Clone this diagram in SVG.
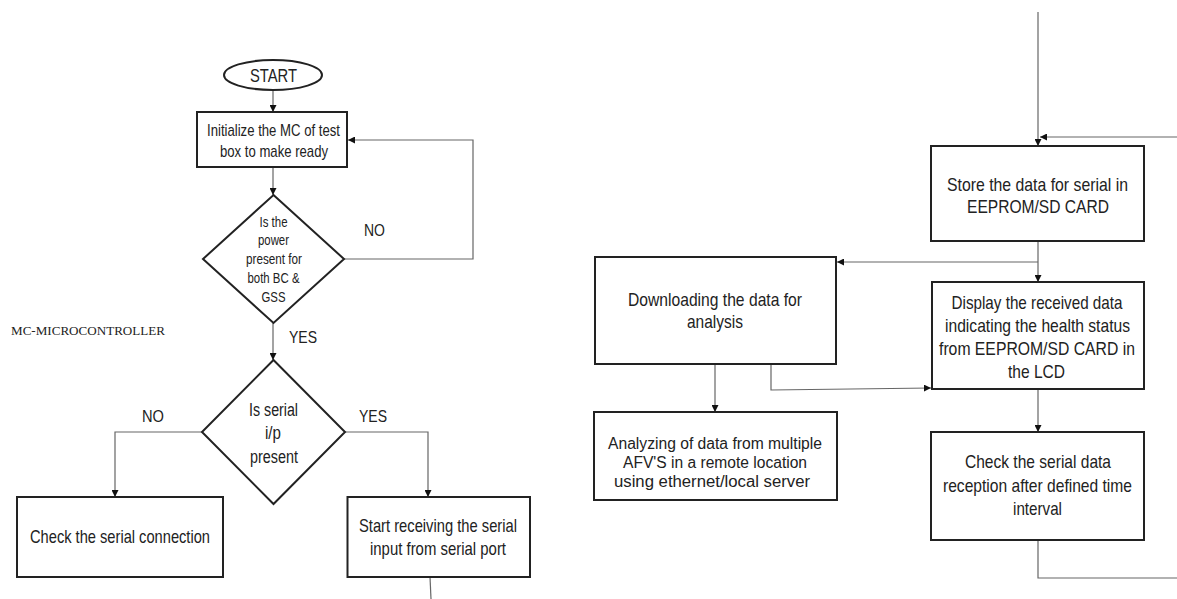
<svg xmlns="http://www.w3.org/2000/svg" width="1177" height="599" viewBox="0 0 1177 599">
<defs>
<style>
.bx{fill:#fff;stroke:#222;stroke-width:2}
.ln{fill:none;stroke:#666;stroke-width:1.2}
.t{font-family:"Liberation Sans",Arial,sans-serif;fill:#222}
.c{text-anchor:middle}
.f14{font-size:14px}
.f16{font-size:16px}
.f17{font-size:17px}
.f18{font-size:18px}
.f19{font-size:19px}
.lab{font-family:"Liberation Serif","Times New Roman",serif;font-size:13px;fill:#222}
</style>
<marker id="ah" viewBox="0 0 8 8" refX="8" refY="4" markerWidth="7" markerHeight="7" markerUnits="userSpaceOnUse" orient="auto">
<path d="M0,0 L8,4 L0,8 Z" fill="#111"/>
</marker>
</defs>
<rect width="1177" height="599" fill="#fff"/>

<g id="connectors">
<line class="ln" x1="273" y1="90" x2="273" y2="112" marker-end="url(#ah)"/>
<line class="ln" x1="273" y1="167" x2="273" y2="195" marker-end="url(#ah)"/>
<polyline class="ln" points="344,259 473,259 473,140 348,140" marker-end="url(#ah)"/>
<line class="ln" x1="273" y1="323" x2="273" y2="360" marker-end="url(#ah)"/>
<polyline class="ln" points="202,432 115,432 115,497" marker-end="url(#ah)"/>
<polyline class="ln" points="345,432 428,432 428,497" marker-end="url(#ah)"/>
<line class="ln" x1="430" y1="577" x2="431" y2="599"/>
<line class="ln" x1="1038" y1="12" x2="1038" y2="146" marker-end="url(#ah)"/>
<line class="ln" x1="1177" y1="137" x2="1040" y2="137" marker-end="url(#ah)"/>
<line class="ln" x1="1038" y1="241" x2="1038" y2="282" marker-end="url(#ah)"/>
<line class="ln" x1="1038" y1="262" x2="837" y2="262" marker-end="url(#ah)"/>
<line class="ln" x1="1038" y1="389" x2="1038" y2="432" marker-end="url(#ah)"/>
<line class="ln" x1="715" y1="364" x2="715" y2="412" marker-end="url(#ah)"/>
<polyline class="ln" points="771,364 771,390 931,388" marker-end="url(#ah)"/>
<polyline class="ln" points="1038,540 1038,578 1177,578"/>
</g>

<g id="start">
<ellipse cx="273" cy="75" rx="49" ry="15" class="bx"/>
<text class="t c f19" x="273.5" y="82" textLength="47" lengthAdjust="spacingAndGlyphs">START</text>
</g>

<g id="init">
<rect x="197" y="112" width="150" height="55" class="bx" stroke-width="2.5"/>
<text class="t c f17" x="273.5" y="136" textLength="133" lengthAdjust="spacingAndGlyphs">Initialize the MC of test</text>
<text class="t c f17" x="274" y="157" textLength="108" lengthAdjust="spacingAndGlyphs">box to make ready</text>
</g>

<g id="power-decision">
<polygon points="273.5,195 344,259 273.5,323 203,259" class="bx"/>
<text class="t c f14" x="273.5" y="227" textLength="28" lengthAdjust="spacingAndGlyphs">Is the</text>
<text class="t c f14" x="273.5" y="245" textLength="31" lengthAdjust="spacingAndGlyphs">power</text>
<text class="t c f14" x="274" y="264" textLength="56" lengthAdjust="spacingAndGlyphs">present for</text>
<text class="t c f14" x="273.5" y="283" textLength="52" lengthAdjust="spacingAndGlyphs">both BC &amp;</text>
<text class="t c f14" x="273.5" y="302" textLength="24" lengthAdjust="spacingAndGlyphs">GSS</text>
</g>

<g id="labels">
<text class="t f17" x="364" y="236" textLength="21" lengthAdjust="spacingAndGlyphs">NO</text>
<text class="t f17" x="289" y="343" textLength="28" lengthAdjust="spacingAndGlyphs">YES</text>
<text class="t f17" x="142" y="422" textLength="22" lengthAdjust="spacingAndGlyphs">NO</text>
<text class="t f17" x="359" y="422" textLength="28" lengthAdjust="spacingAndGlyphs">YES</text>
<text class="lab" x="11" y="335" textLength="154" lengthAdjust="spacingAndGlyphs">MC-MICROCONTROLLER</text>
</g>

<g id="serial-decision">
<polygon points="273.5,360 345,432 273.5,504 202,432" class="bx"/>
<text class="t c f18" x="273.5" y="416" textLength="49" lengthAdjust="spacingAndGlyphs">Is serial</text>
<text class="t c f18" x="273" y="439" textLength="16" lengthAdjust="spacingAndGlyphs">i/p</text>
<text class="t c f18" x="274" y="463" textLength="48" lengthAdjust="spacingAndGlyphs">present</text>
</g>

<g id="check-connection">
<rect x="17" y="497" width="206" height="80" class="bx"/>
<text class="t c f19" x="120" y="543" textLength="180" lengthAdjust="spacingAndGlyphs">Check the serial connection</text>
</g>

<g id="start-receiving">
<rect x="347.5" y="497" width="182.5" height="80" class="bx"/>
<text class="t c f19" x="438" y="532" textLength="158" lengthAdjust="spacingAndGlyphs">Start receiving the serial</text>
<text class="t c f19" x="438" y="555" textLength="136" lengthAdjust="spacingAndGlyphs">input from serial port</text>
</g>

<g id="store">
<rect x="931" y="146" width="213" height="95" class="bx"/>
<text class="t c f19" x="1037.5" y="191" textLength="181" lengthAdjust="spacingAndGlyphs">Store the data for serial in</text>
<text class="t c f19" x="1038" y="213" textLength="142" lengthAdjust="spacingAndGlyphs">EEPROM/SD CARD</text>
</g>

<g id="downloading">
<rect x="595" y="257" width="241" height="107" class="bx"/>
<text class="t c f19" x="715" y="306" textLength="174" lengthAdjust="spacingAndGlyphs">Downloading the data for</text>
<text class="t c f19" x="715" y="328" textLength="56" lengthAdjust="spacingAndGlyphs">analysis</text>
</g>

<g id="display">
<rect x="932" y="282" width="212" height="107" class="bx"/>
<text class="t c f19" x="1037" y="309" textLength="171" lengthAdjust="spacingAndGlyphs">Display the received data</text>
<text class="t c f19" x="1037.5" y="332" textLength="185" lengthAdjust="spacingAndGlyphs">indicating the health status</text>
<text class="t c f19" x="1037" y="355" textLength="196" lengthAdjust="spacingAndGlyphs">from EEPROM/SD CARD in</text>
<text class="t c f19" x="1036.5" y="378" textLength="57" lengthAdjust="spacingAndGlyphs">the LCD</text>
</g>

<g id="analyzing">
<rect x="594" y="412" width="243" height="88" class="bx"/>
<text class="t c f16" x="715" y="449" textLength="214" lengthAdjust="spacingAndGlyphs">Analyzing of data from multiple</text>
<text class="t c f16" x="715" y="468" textLength="184" lengthAdjust="spacingAndGlyphs">AFV'S in a remote location</text>
<text class="t c f16" x="712" y="487" textLength="196" lengthAdjust="spacingAndGlyphs">using ethernet/local server</text>
</g>

<g id="check-reception">
<rect x="931" y="432" width="213" height="108" class="bx"/>
<text class="t c f19" x="1038" y="468" textLength="146" lengthAdjust="spacingAndGlyphs">Check the serial data</text>
<text class="t c f19" x="1037.5" y="492" textLength="189" lengthAdjust="spacingAndGlyphs">reception after defined time</text>
<text class="t c f19" x="1037.5" y="515" textLength="49" lengthAdjust="spacingAndGlyphs">interval</text>
</g>
</svg>
